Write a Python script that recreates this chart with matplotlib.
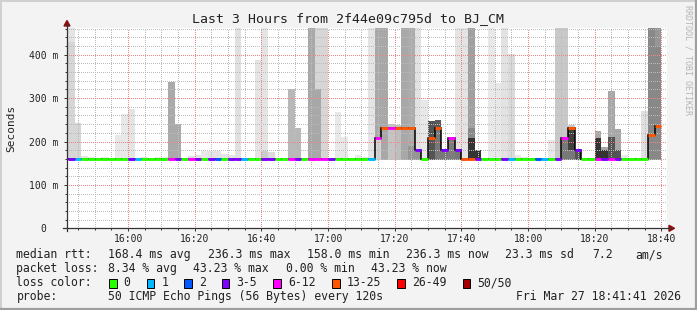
import numpy as np
import matplotlib
matplotlib.use("Agg")
import matplotlib.pyplot as plt
from matplotlib.patches import Rectangle, Polygon
from matplotlib.lines import Line2D

# ---------------- data ----------------
title = "Last 3 Hours from 2f44e09c795d to BJ_CM"
start_minute = 15 * 60 + 41 + 41 / 60.0      # 15:41:41
span_minutes = 180
first_step_minute = 15 * 60 + 42
step_minutes = 2

time_ticks_major = [16 * 60, 16 * 60 + 20, 16 * 60 + 40, 17 * 60, 17 * 60 + 20,
                    17 * 60 + 40, 18 * 60, 18 * 60 + 20, 18 * 60 + 40]
time_tick_labels = ["16:00", "16:20", "16:40", "17:00", "17:20",
                    "17:40", "18:00", "18:20", "18:40"]
y_ticks = [0, 100, 200, 300, 400]
y_tick_labels = ["0  ", "100 m", "200 m", "300 m", "400 m"]

# median rtt per 2-minute step (ms)
median_ms = [159] * 46 + [209, 232, 230, 230, 232, 232, 181, 159, 209, 230,
                          181, 207, 180, 159, 159, 159] + [159] * 12 + \
            [209, 232, 181] + [159] * 10 + [214, 236.3]

# loss category index per step (into loss_labels)
loss_idx = [3, 1, 0, 0, 0, 0, 0, 0, 0, 3,
            1, 0, 0, 0, 0, 4, 3, 0, 4, 3,
            0, 3, 2, 0, 3, 3, 1, 0, 0, 3,
            3, 0, 0, 4, 3, 0, 4, 4, 4, 3,
            0, 0, 0, 0, 0, 1, 4, 5, 4, 5,
            5, 5, 3, 0, 5, 5, 3, 4, 3, 5,
            5, 3, 0, 0, 0, 3, 1, 0, 0, 0,
            2, 1, 0, 3, 4, 5, 3, 0, 0, 4,
            3, 4, 3, 0, 0, 0, 0, 5, 5]

# smoke layers: top value (ms, 0 = none) and grey level per step
smoke_outer_top = [480, 243, 167, 164, 163, 164, 163, 214, 263, 275,
                   162, 165, 163, 165, 164, 338, 240, 161, 167, 169,
                   177, 178, 178, 172, 170, 480, 162, 161, 387, 480,
                   176, 163, 162, 321, 232, 0, 480, 480, 480, 0,
                   268, 211, 0, 169, 165, 480, 480, 480, 240, 238,
                   480, 480, 480, 296, 248, 250, 181, 207, 480, 480,
                   480, 181, 0, 480, 334, 480, 401, 169, 164, 0,
                   0, 0, 204, 480, 480, 237, 181, 0, 0, 224,
                   188, 317, 229, 169, 0, 0, 271, 480, 480]
smoke_outer_gray = [228, 214, 228, 232, 232, 232, 232, 232, 232, 228,
                    232, 228, 232, 232, 232, 170, 170, 232, 224, 228,
                    232, 228, 228, 228, 228, 224, 232, 232, 228, 228,
                    220, 232, 232, 184, 184, 232, 168, 214, 214, 232,
                    232, 232, 232, 232, 232, 228, 168, 168, 196, 190,
                    168, 172, 226, 232, 84, 90, 120, 125, 228, 228,
                    160, 52, 232, 232, 232, 226, 218, 232, 232, 232,
                    232, 232, 232, 200, 200, 200, 84, 232, 232, 168,
                    168, 168, 168, 232, 232, 232, 224, 136, 150]
smoke_mid_top = [430, 0, 0, 0, 0, 0, 0, 0, 0, 0,
                 0, 0, 0, 0, 0, 0, 0, 0, 0, 0,
                 0, 0, 0, 0, 0, 0, 0, 0, 0, 177,
                 0, 0, 0, 0, 0, 0, 0, 321, 0, 0,
                 0, 0, 0, 0, 0, 0, 209, 0, 0, 0,
                 0, 190, 181, 0, 0, 229, 0, 0, 180, 0,
                 232, 0, 0, 0, 0, 0, 0, 0, 0, 0,
                 0, 0, 0, 0, 209, 234, 0, 0, 0, 209,
                 181, 211, 181, 0, 0, 0, 0, 0, 421]
smoke_mid_gray = [214, 0, 0, 0, 0, 0, 0, 0, 0, 0,
                  0, 0, 0, 0, 0, 0, 0, 0, 0, 0,
                  0, 0, 0, 0, 0, 0, 0, 0, 0, 204,
                  0, 0, 0, 0, 0, 0, 0, 168, 0, 0,
                  0, 0, 0, 0, 0, 0, 212, 0, 0, 0,
                  0, 150, 150, 0, 0, 120, 0, 0, 120, 0,
                  136, 0, 0, 0, 0, 0, 0, 0, 0, 0,
                  0, 0, 0, 0, 120, 64, 0, 0, 0, 52,
                  52, 84, 84, 0, 0, 0, 0, 0, 136]
smoke_inner_top = [0] * 60 + [209] + [0] * 14 + [181] + [0] * 13
smoke_inner_gray = [0] * 60 + [52] + [0] * 14 + [120] + [0] * 13
smoke_floor_ms = 157

loss_labels = ["0", "1", "2", "3-5", "6-12", "13-25", "26-49", "50/50"]
loss_colors = ["#26ff00", "#00b8ff", "#0059ff", "#7e00ff",
               "#ff00ff", "#ff5500", "#ff0000", "#a10000"]

rtt_avg, rtt_max, rtt_min, rtt_now, rtt_sd, am_s = 168.4, 236.3, 158.0, 236.3, 23.3, 7.2
loss_avg, loss_max, loss_min, loss_now = 8.34, 43.23, 0.00, 43.23
probe_text = "50 ICMP Echo Pings (56 Bytes) every 120s"
stamp_text = "Fri Mar 27 18:41:41 2026"

# ---------------- figure ----------------
W, H = 697, 310
fig = plt.figure(figsize=(W / 100, H / 100), dpi=100)
fig.patch.set_facecolor("#f3f3f3")
MONO = "DejaVu Sans Mono"


def fx(px):
    return px / W


def fy(py):
    return 1 - py / H


ax_l, ax_r, ax_t, ax_b = 67, 667, 28, 228.3
ax = fig.add_axes([fx(ax_l), fy(ax_b), (ax_r - ax_l) / W, (ax_b - ax_t) / H])
ax.set_facecolor("white")
ax.set_xlim(start_minute, start_minute + span_minutes)
ax.set_ylim(0, 461.6)
for s in ax.spines.values():
    s.set_visible(False)

n = len(median_ms)
edges = first_step_minute + step_minutes * np.arange(n + 1)
centers = (edges[:-1] + edges[1:]) / 2


def draw_layer(tops, grays, z):
    tops = np.asarray(tops, dtype=float)
    m = tops > 0
    cols = [(g / 255, g / 255, g / 255) for g in np.asarray(grays)[m]]
    ax.bar(centers[m], tops[m] - smoke_floor_ms, bottom=smoke_floor_ms,
           width=step_minutes, color=cols, linewidth=0, zorder=z)


draw_layer(smoke_outer_top, smoke_outer_gray, 1.0)
draw_layer(smoke_mid_top, smoke_mid_gray, 1.1)
draw_layer(smoke_inner_top, smoke_inner_gray, 1.2)

# grid (drawn over the smoke like rrdtool)
ax.set_xticks(time_ticks_major, labels=time_tick_labels)
ax.set_xticks(np.arange(945, 1121, 5), minor=True)
ax.set_yticks(y_ticks, labels=y_tick_labels)
ax.set_yticks(np.arange(20, 461, 20), minor=True)
ax.set_axisbelow(False)
ax.grid(which="minor", color="#bcbcbc", linestyle=(0, (1, 2)),
        linewidth=0.72, antialiased=False)
ax.grid(which="major", color="#ee8484", linestyle=(0, (1, 2)),
        linewidth=0.72, antialiased=False)
ax.tick_params(which="both", direction="out", color="#333333", width=0.7)
ax.tick_params(which="major", length=2.2)
ax.tick_params(which="minor", length=1.4)
ax.tick_params(axis="y", which="major", pad=3.9, labelsize=7, labelcolor="#222222")
ax.tick_params(axis="x", which="major", pad=2.0, labelsize=7, labelcolor="#222222")
for lab in ax.get_xticklabels() + ax.get_yticklabels():
    lab.set_fontfamily(MONO)

# median line
ax.stairs(median_ms, edges, baseline=None, color="black", linewidth=1.1, zorder=4)
ax.hlines(median_ms, edges[:-1], edges[1:],
          colors=[loss_colors[i] for i in loss_idx], linewidth=2.1, zorder=5)

# axis lines and arrows
axis_col = "#333333"
fig.add_artist(Line2D([fx(ax_l), fx(ax_l)], [fy(231), fy(24)], color=axis_col, lw=0.9))
fig.add_artist(Line2D([fx(63), fx(670)], [fy(ax_b), fy(ax_b)], color=axis_col, lw=0.9))
arrow_col = "#8b1010"
fig.add_artist(Polygon([(fx(64), fy(26)), (fx(70), fy(26)), (fx(67), fy(20.5))],
                       closed=True, color=arrow_col, transform=fig.transFigure))
fig.add_artist(Polygon([(fx(669), fy(225.3)), (fx(669), fy(231.3)), (fx(674.5), fy(ax_b))],
                       closed=True, color=arrow_col, transform=fig.transFigure))

# titles
fig.text(fx(348.5), fy(19), title, ha="center", va="center", family=MONO,
         size=9.5, color="#222222")
fig.text(fx(11), fy(128), "Seconds", ha="center", va="center", rotation=90,
         family=MONO, size=8, color="#222222")
fig.text(fx(688), fy(60), "RRDTOOL / TOBI OETIKER", ha="center", va="center",
         rotation=270, family=MONO, size=6, color="#b4b4b4")

# legend
LS = 8.3
txt = dict(va="center", ha="left", family=MONO, size=LS, color="#222222")
rows = [
    (254.5, [("median rtt:", 16.4), (f"{rtt_avg:.1f} ms avg", 107.6),
             (f"{rtt_max:.1f} ms max", 207.6), (f"{rtt_min:.1f} ms min", 306.7),
             (f"{rtt_now:.1f} ms now", 405.8), (f"{rtt_sd:.1f} ms sd", 505.0),
             (f"{am_s:.1f}", 592.0), ("am/s", 635.6)]),
    (268.5, [("packet loss:", 16.4), (f"{loss_avg:.2f} % avg", 107.6),
             (f"{loss_max:.2f} % max", 193.3), (f"{loss_min:.2f} % min", 285.8),
             (f"{loss_now:.2f} % now", 371.1)]),
    (282.5, [("loss color:", 16.4)]),
    (296.5, [("probe:", 16.4), (probe_text, 107.6)]),
]
for yy, items in rows:
    for s, xx in items:
        fig.text(fx(xx), fy(yy), s, **txt)
fig.text(fx(680.5), fy(296.5), stamp_text, **{**txt, "ha": "right"})

char_w = 6.95
bx = 108.9
for lab, col in zip(loss_labels, loss_colors):
    fig.add_artist(Rectangle((fx(bx), fy(287.5)), 7.6 / W, 9 / H, facecolor=col,
                             edgecolor="black", linewidth=0.7, transform=fig.transFigure))
    fig.text(fx(bx + 14.7), fy(282.5), lab, **txt)
    bx = bx + 14.7 + len(lab) * char_w + 16

# 3D frame
fig.add_artist(Line2D([0, 1], [fy(0.5), fy(0.5)], color="#d0d0d0", lw=1.4))
fig.add_artist(Line2D([fx(0.5), fx(0.5)], [0, 1], color="#d0d0d0", lw=1.4))
fig.add_artist(Line2D([0, 1], [fy(309), fy(309)], color="#9e9e9e", lw=1.6))
fig.add_artist(Line2D([fx(696), fx(696)], [0, 1], color="#9e9e9e", lw=1.6))

fig.savefig("out.png", dpi=100, facecolor=fig.get_facecolor())
